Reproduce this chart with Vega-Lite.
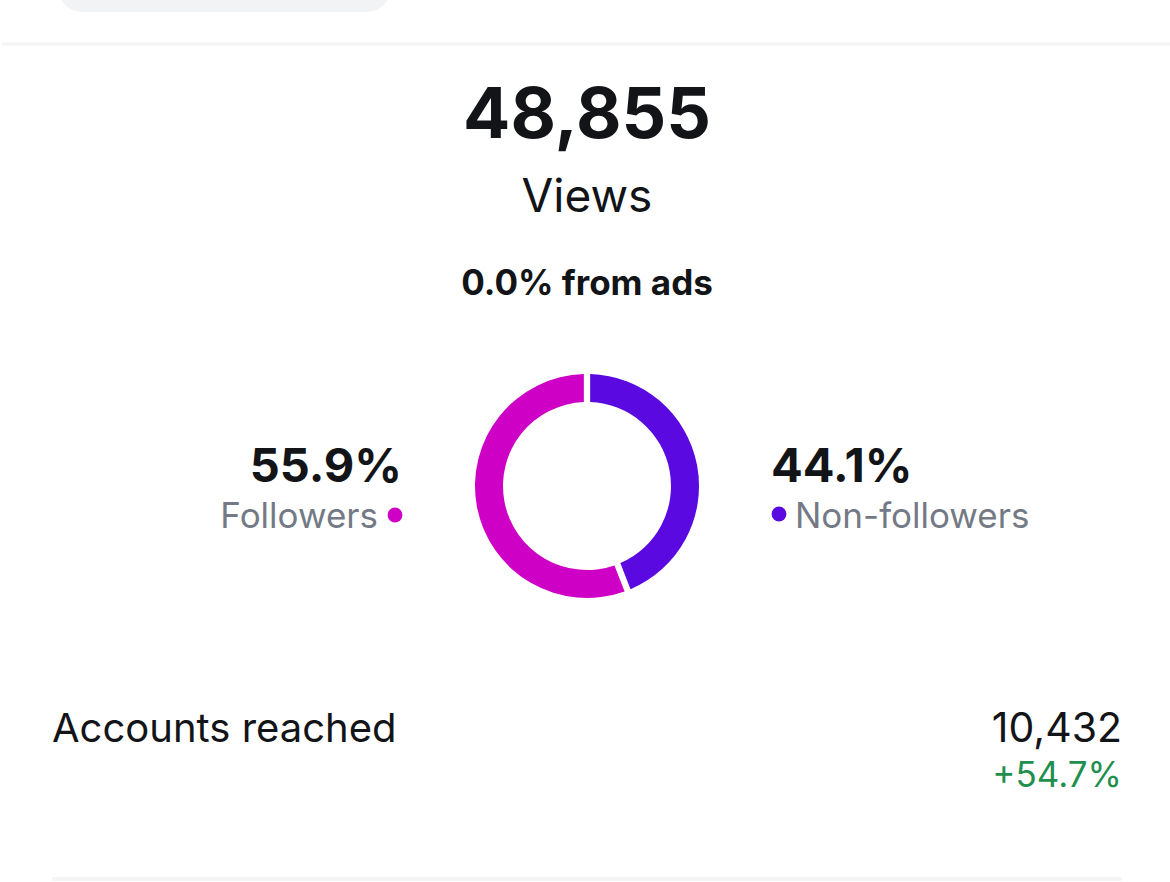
{
  "$schema": "https://vega.github.io/schema/vega-lite/v6.json",
  "width": 1170,
  "height": 882,
  "autosize": {"type": "fit", "contains": "padding"},
  "padding": 0,
  "background": "#ffffff",
  "view": {"stroke": null},
  "config": {"font": "Inter"},
  "layer": [
    {
      "data": {"values": [{"item": "tab"}]},
      "mark": {"type": "rect", "fill": "#f2f3f5", "cornerRadius": 30, "clip": true},
      "encoding": {"x": {"value": 55}, "x2": {"value": 390}, "y": {"value": -40}, "y2": {"value": 12}}
    },
    {
      "data": {"values": [{"item": "top divider"}]},
      "mark": {"type": "rule", "stroke": "#f4f4f5", "strokeWidth": 3},
      "encoding": {"x": {"value": 0}, "x2": {"value": 1170}, "y": {"value": 44}}
    },
    {
      "data": {"values": [{"item": "bottom divider"}]},
      "mark": {"type": "rule", "stroke": "#f5f5f6", "strokeWidth": 4},
      "encoding": {"x": {"value": 50}, "x2": {"value": 1120}, "y": {"value": 879}}
    },
    {
      "data": {"values": [{"segment": "Followers", "share": 55.9}, {"segment": "Non-followers", "share": 44.1}]},
      "mark": {"type": "arc", "radius": 112, "radius2": 84, "padAngle": 0.045},
      "encoding": {
        "x": {"value": 585},
        "y": {"value": 486},
        "theta": {"field": "share", "type": "quantitative", "stack": true},
        "order": {"field": "segment", "sort": "descending"},
        "color": {"field": "segment", "type": "nominal", "legend": null,
          "scale": {"domain": ["Followers", "Non-followers"], "range": ["#CF00C6", "#5A0AE1"]}}
      }
    },
    {
      "data": {"values": [{"label": "48,855"}]},
      "mark": {"type": "text", "fontSize": 70, "fontWeight": "bold", "align": "center", "baseline": "alphabetic", "color": "#121418"},
      "encoding": {"text": {"field": "label"}, "x": {"value": 585}, "y": {"value": 138}}
    },
    {
      "data": {"values": [{"label": "Views"}]},
      "mark": {"type": "text", "fontSize": 46, "align": "center", "baseline": "alphabetic", "color": "#121418"},
      "encoding": {"text": {"field": "label"}, "x": {"value": 585}, "y": {"value": 212}}
    },
    {
      "data": {"values": [{"label": "0.0% from ads"}]},
      "mark": {"type": "text", "fontSize": 35, "fontWeight": "bold", "align": "center", "baseline": "alphabetic", "color": "#121418"},
      "encoding": {"text": {"field": "label"}, "x": {"value": 585}, "y": {"value": 295}}
    },
    {
      "data": {"values": [{"label": "55.9%"}]},
      "mark": {"type": "text", "fontSize": 47, "fontWeight": "bold", "align": "right", "baseline": "alphabetic", "color": "#121418"},
      "encoding": {"text": {"field": "label"}, "x": {"value": 400}, "y": {"value": 482}}
    },
    {
      "data": {"values": [{"label": "Followers"}]},
      "mark": {"type": "text", "fontSize": 35, "align": "right", "baseline": "alphabetic", "color": "#737a86"},
      "encoding": {"text": {"field": "label"}, "x": {"value": 376}, "y": {"value": 528}}
    },
    {
      "data": {"values": [{"label": "44.1%"}]},
      "mark": {"type": "text", "fontSize": 47, "fontWeight": "bold", "align": "left", "baseline": "alphabetic", "color": "#121418"},
      "encoding": {"text": {"field": "label"}, "x": {"value": 769}, "y": {"value": 482}}
    },
    {
      "data": {"values": [{"label": "Non-followers"}]},
      "mark": {"type": "text", "fontSize": 35, "align": "left", "baseline": "alphabetic", "color": "#737a86"},
      "encoding": {"text": {"field": "label"}, "x": {"value": 793}, "y": {"value": 528}}
    },
    {
      "data": {"values": [{"segment": "Followers"}]},
      "mark": {"type": "point", "filled": true, "size": 220, "opacity": 1},
      "encoding": {"x": {"value": 393}, "y": {"value": 515},
        "color": {"field": "segment", "type": "nominal", "legend": null}}
    },
    {
      "data": {"values": [{"segment": "Non-followers"}]},
      "mark": {"type": "point", "filled": true, "size": 220, "opacity": 1},
      "encoding": {"x": {"value": 777}, "y": {"value": 514},
        "color": {"field": "segment", "type": "nominal", "legend": null}}
    },
    {
      "data": {"values": [{"label": "Accounts reached"}]},
      "mark": {"type": "text", "fontSize": 40, "align": "left", "baseline": "alphabetic", "color": "#121418"},
      "encoding": {"text": {"field": "label"}, "x": {"value": 50}, "y": {"value": 742}}
    },
    {
      "data": {"values": [{"label": "10,432"}]},
      "mark": {"type": "text", "fontSize": 41, "align": "right", "baseline": "alphabetic", "color": "#121418"},
      "encoding": {"text": {"field": "label"}, "x": {"value": 1120}, "y": {"value": 742}}
    },
    {
      "data": {"values": [{"label": "+54.7%"}]},
      "mark": {"type": "text", "fontSize": 35, "align": "right", "baseline": "alphabetic", "color": "#1f8f4e"},
      "encoding": {"text": {"field": "label"}, "x": {"value": 1120}, "y": {"value": 787}}
    }
  ]
}
